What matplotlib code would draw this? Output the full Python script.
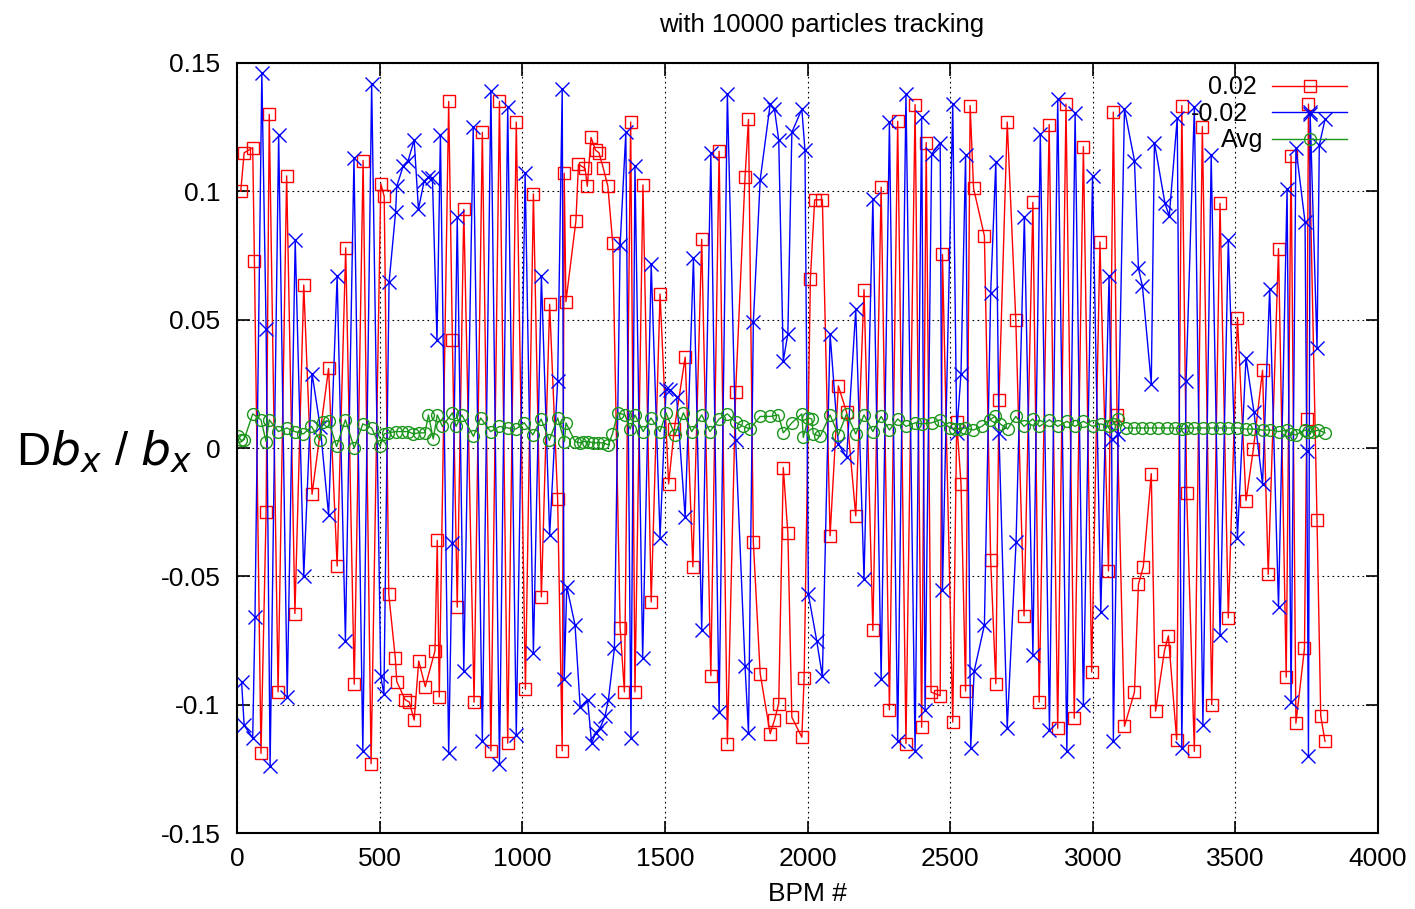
import numpy as np
import matplotlib
matplotlib.use("Agg")
import matplotlib.pyplot as plt

plt.rcParams['font.family'] = ['Liberation Sans', 'DejaVu Sans']
plt.rcParams['mathtext.fontset'] = 'dejavusans'

# Delta beta_x / beta_x at each BPM, +0.02 case
bpm_pos = [13, 25, 55, 61, 84, 102, 113, 144, 174, 203, 234, 263, 321, 351, 381,
           411, 442, 470, 504, 516, 532, 555, 560, 589, 604, 621, 637, 660, 694, 702,
           709, 742, 755, 772, 795, 831, 860, 890, 920, 949, 979, 1011, 1039, 1067,
           1096, 1124, 1140, 1147, 1153, 1188, 1197, 1220, 1228, 1241, 1257, 1269,
           1284, 1300, 1317, 1343, 1358, 1380, 1395, 1423, 1452, 1483, 1513, 1533,
           1571, 1598, 1629, 1661, 1690, 1719, 1748, 1781, 1793, 1810, 1834, 1869,
           1884, 1899, 1915, 1931, 1945, 1980, 1988, 2010, 2025, 2052, 2079, 2108,
           2137, 2169, 2198, 2229, 2258, 2287, 2316, 2345, 2377, 2400, 2416, 2433,
           2465, 2473, 2509, 2523, 2538, 2554, 2570, 2582, 2620, 2642, 2660, 2671,
           2700, 2730, 2759, 2790, 2812, 2847, 2877, 2906, 2935, 2967, 2996, 3025,
           3055, 3072, 3085, 3111, 3146, 3160, 3177, 3205, 3220, 3251, 3265, 3294,
           3312, 3329, 3356, 3384, 3417, 3446, 3475, 3507, 3537, 3563, 3595, 3615,
           3651, 3678, 3695, 3712, 3742, 3750, 3756, 3786, 3799, 3814]
val_pos = [0.100, 0.115, 0.117, 0.073, -0.119, -0.025, 0.130, -0.095, 0.106, -0.0645,
           0.0635, -0.018, 0.031, -0.046, 0.078, -0.092, 0.112, -0.123, 0.103, 0.098,
           -0.057, -0.082, -0.091, -0.098, -0.099, -0.106, -0.083, -0.093, -0.079,
           -0.036, -0.097, 0.135, 0.042, -0.062, 0.093, -0.099, 0.123, -0.118, 0.135,
           -0.115, 0.127, -0.094, 0.099, -0.058, 0.056, -0.020, -0.118, 0.107, 0.057,
           0.0885, 0.1105, 0.109, 0.102, 0.121, 0.116, 0.115, 0.109, 0.102, 0.080,
           -0.070, -0.095, 0.127, -0.095, 0.1025, -0.060, 0.060, -0.014, 0.0074,
           0.0354, -0.0463, 0.0813, -0.0887, 0.1156, -0.1152, 0.022, 0.1057, 0.128,
           -0.0367, -0.0879, -0.1113, -0.106, -0.0996, -0.0076, -0.0332, -0.1049,
           -0.1127, -0.0895, 0.066, 0.0967, 0.0967, -0.0342, 0.0242, 0.0139, -0.0264,
           0.0617, -0.0711, 0.1016, -0.102, 0.1273, -0.1152, 0.1338, -0.1088, 0.119,
           -0.0951, -0.0965, 0.0754, -0.1068, 0.0103, -0.014, -0.0947, 0.1334, 0.1012,
           0.0826, -0.0438, -0.0918, 0.0188, 0.127, 0.050, -0.0654, 0.0957, -0.099,
           0.126, -0.1092, 0.134, -0.1053, 0.1174, -0.0873, 0.0803, -0.0479, 0.1309,
           0.0129, -0.1084, -0.0951, -0.0531, -0.0463, -0.010, -0.1025, -0.0791,
           -0.0732, -0.1137, 0.1334, -0.0176, -0.1182, 0.1252, -0.100, 0.0953, -0.0662,
           0.0508, -0.0205, -0.0004, 0.0303, -0.0492, 0.0777, -0.0893, 0.1139, -0.1072,
           -0.0781, 0.0113, 0.134, -0.0281, -0.1043, -0.1143]

# -0.02 case
bpm_neg = [16, 25, 55, 63, 87, 102, 116, 146, 176, 204, 234, 263, 292, 321, 351, 380,
           410, 441, 472, 504, 515, 533, 556, 560, 583, 600, 621, 636, 656, 671, 685,
           701, 713, 742, 755, 772, 795, 828, 860, 890, 920, 949, 979, 1010, 1039,
           1067, 1096, 1124, 1140, 1147, 1156, 1185, 1203, 1229, 1243, 1257, 1273,
           1290, 1302, 1323, 1343, 1363, 1381, 1395, 1422, 1452, 1483, 1504, 1519,
           1541, 1571, 1600, 1629, 1661, 1690, 1719, 1748, 1781, 1793, 1810, 1834,
           1869, 1884, 1899, 1915, 1931, 1945, 1980, 1991, 2003, 2032, 2052, 2079,
           2108, 2137, 2169, 2198, 2229, 2258, 2287, 2316, 2345, 2377, 2400, 2412,
           2435, 2465, 2473, 2509, 2523, 2538, 2554, 2572, 2584, 2620, 2642, 2660,
           2671, 2700, 2731, 2760, 2790, 2816, 2848, 2877, 2909, 2938, 2967, 2999,
           3028, 3057, 3066, 3072, 3089, 3111, 3146, 3160, 3174, 3205, 3216, 3253,
           3268, 3296, 3312, 3327, 3356, 3386, 3415, 3446, 3475, 3507, 3537, 3565,
           3595, 3620, 3651, 3681, 3695, 3712, 3744, 3750, 3756, 3762, 3786, 3794,
           3814]
val_neg = [-0.091, -0.108, -0.113, -0.066, 0.146, 0.0465, -0.124, 0.122, -0.097, 0.081,
           -0.050, 0.029, 0.008, -0.026, 0.067, -0.075, 0.113, -0.118, 0.142, -0.089,
           -0.096, 0.0645, 0.092, 0.102, 0.110, 0.112, 0.120, 0.093, 0.104, 0.1055,
           0.105, 0.042, 0.122, -0.119, -0.037, 0.090, -0.087, 0.125, -0.114, 0.139,
           -0.123, 0.133, -0.112, 0.107, -0.080, 0.067, -0.034, 0.026, 0.140, -0.090,
           -0.054, -0.069, -0.101, -0.098, -0.115, -0.111, -0.109, -0.1045, -0.098,
           -0.078, 0.079, 0.123, -0.113, 0.110, -0.082, 0.0715, -0.035, 0.023, 0.0227,
           0.020, -0.027, 0.074, -0.071, 0.115, -0.103, 0.138, 0.003, -0.085, -0.111,
           0.049, 0.1045, 0.134, 0.132, 0.120, 0.034, 0.0445, 0.123, 0.132, 0.116,
           -0.057, -0.075, -0.089, 0.0445, 0.0016, -0.0037, 0.054, -0.051, 0.097,
           -0.090, 0.127, -0.114, 0.138, -0.118, 0.129, -0.102, 0.1145, 0.119, -0.0555,
           0.134, 0.006, 0.029, 0.114, -0.117, -0.087, -0.069, 0.0605, 0.1115, 0.006,
           -0.109, -0.0365, 0.090, -0.0805, 0.1225, -0.110, 0.136, -0.118, 0.1305,
           -0.100, 0.106, -0.064, 0.067, 0.0035, -0.114, 0.0055, 0.132, 0.112, 0.070,
           0.063, 0.025, 0.119, 0.0953, 0.0904, 0.1285, -0.117, 0.026, 0.133, -0.108,
           0.114, -0.073, 0.081, -0.035, 0.035, 0.014, -0.014, 0.062, -0.062, 0.101,
           -0.099, 0.117, 0.088, -0.001, -0.120, 0.130, 0.039, 0.118, 0.128]

# average of the two
bpm_avg = [5, 14, 25, 55, 84, 102, 113, 145, 174, 203, 233, 261, 291, 300, 321, 349,
           380, 411, 441, 472, 501, 516, 531, 556, 577, 601, 618, 637, 659, 671, 688,
           702, 720, 755, 768, 788, 829, 854, 889, 920, 949, 978, 1007, 1037, 1066,
           1095, 1124, 1148, 1153, 1185, 1203, 1214, 1232, 1249, 1267, 1284, 1302,
           1316, 1335, 1360, 1378, 1395, 1424, 1451, 1483, 1504, 1535, 1565, 1594,
           1629, 1658, 1690, 1719, 1748, 1775, 1798, 1834, 1869, 1898, 1915, 1945,
           1980, 1985, 2003, 2015, 2020, 2044, 2079, 2108, 2137, 2169, 2198, 2229,
           2258, 2287, 2316, 2345, 2377, 2400, 2435, 2465, 2500, 2517, 2535, 2552,
           2581, 2611, 2640, 2657, 2675, 2701, 2730, 2759, 2789, 2813, 2848, 2877,
           2909, 2938, 2967, 2999, 3028, 3057, 3072, 3090, 3115, 3146, 3171, 3201,
           3230, 3259, 3288, 3312, 3329, 3356, 3388, 3417, 3446, 3475, 3507, 3536,
           3563, 3595, 3621, 3651, 3680, 3695, 3711, 3744, 3756, 3773, 3791, 3814]
val_avg = [0.0045, 0.003, 0.0033, 0.0133, 0.011, 0.0025, 0.011, 0.0064, 0.0078, 0.0064,
           0.0055, 0.0084, 0.003, 0.0103, 0.0105, 0.0006, 0.011, 0.0, 0.0094, 0.0078,
           0.0006, 0.0055, 0.0059, 0.0064, 0.0064, 0.0064, 0.0055, 0.0059, 0.0059,
           0.0129, 0.0035, 0.0129, 0.0084, 0.0137, 0.0084, 0.0129, 0.0045, 0.0117,
           0.0064, 0.0084, 0.0078, 0.0074, 0.0098, 0.0051, 0.0113, 0.003, 0.0117,
           0.0025, 0.0098, 0.0025, 0.002, 0.0025, 0.0025, 0.002, 0.002, 0.002, 0.0012,
           0.0055, 0.0137, 0.0129, 0.0074, 0.0129, 0.0064, 0.0117, 0.0064, 0.0137,
           0.0051, 0.0137, 0.0064, 0.0129, 0.0064, 0.0113, 0.0133, 0.010, 0.0084,
           0.0074, 0.0123, 0.0123, 0.0129, 0.0059, 0.0098, 0.0133, 0.0041, 0.0117,
           0.0113, 0.0055, 0.0045, 0.0129, 0.0051, 0.0133, 0.0055, 0.0129, 0.0064,
           0.0123, 0.007, 0.0113, 0.0084, 0.0098, 0.0094, 0.0098, 0.011, 0.0078,
           0.0074, 0.0074, 0.0078, 0.007, 0.0084, 0.011, 0.0123, 0.0094, 0.0074,
           0.0123, 0.0084, 0.0113, 0.0084, 0.011, 0.0084, 0.0104, 0.0084, 0.0104,
           0.0084, 0.0094, 0.0084, 0.0094, 0.0113, 0.0078, 0.0078, 0.0078, 0.0078,
           0.0078, 0.0078, 0.0078, 0.0074, 0.0078, 0.0078, 0.0078, 0.0078, 0.0078,
           0.0078, 0.0078, 0.0074, 0.0074, 0.007, 0.007, 0.0064, 0.007, 0.0055,
           0.0051, 0.007, 0.0064, 0.0064, 0.007, 0.0059]

fig = plt.figure(figsize=(14.15, 9.09), dpi=100)
ax = fig.add_axes([0.1675, 0.0836, 0.8064, 0.8471])

ax.plot(bpm_pos, val_pos, color='#ff0000', lw=1.0, marker='s', ms=9,
        mfc='none', mec='#ff0000', mew=1.0, label='0.02')
ax.plot(bpm_neg, val_neg, color='#0000ff', lw=1.0, marker='x', ms=10,
        mew=1.0, label='-0.02')
ax.plot(bpm_avg, val_avg, color='#1a961a', lw=1.0, marker='o', ms=8.5,
        mfc='none', mec='#1a961a', mew=1.0, label='Avg')

ax.set_xlim(0, 4000)
ax.set_ylim(-0.15, 0.15)
ax.set_xticks(np.arange(0, 4001, 500))
ax.set_yticks([-0.15, -0.1, -0.05, 0, 0.05, 0.1, 0.15])
ax.set_yticklabels(['-0.15', '-0.1', '-0.05', '0', '0.05', '0.1', '0.15'])
ax.tick_params(direction='in', length=9, width=1.2, top=True, right=True,
               labelsize=19)
ax.tick_params(axis='y', pad=12)
ax.tick_params(axis='x', pad=10)
ax.grid(True, color='black', linestyle=(0, (1.5, 3)), linewidth=0.8)
for s in ax.spines.values():
    s.set_linewidth(1.5)

ax.set_title('with 10000 particles tracking', fontsize=18.5, pad=22, x=0.512)
ax.set_xlabel('BPM #', fontsize=19, labelpad=8)
fig.text(0.136, 0.503, r'D$b_x$ / $b_x$', fontsize=34, ha='right', va='center')

leg = ax.legend(loc='upper right', bbox_to_anchor=(0.9729, 0.984), frameon=False,
                markerfirst=False, numpoints=1, handlelength=3.0, handletextpad=0.95,
                labelspacing=0.1, fontsize=18, borderpad=0, borderaxespad=0)
# right-align the legend labels like gnuplot does
fig.canvas.draw()
texts = leg.get_texts()
widths = [t.get_window_extent().width for t in texts]
for t, w in zip(texts, widths):
    t.set_position((max(widths) - w, 0))

plt.savefig('out.png', dpi=100)
plt.close()
